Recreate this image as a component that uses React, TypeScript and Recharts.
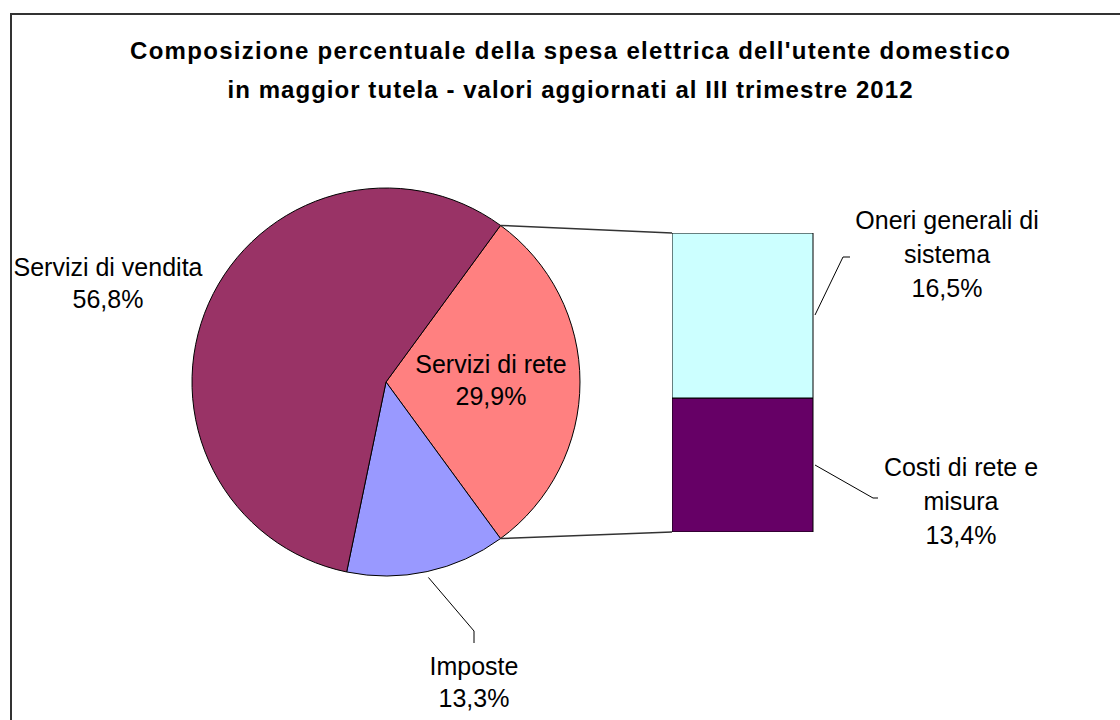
import React from 'react';
import { PieChart, Pie, Cell, BarChart, Bar, XAxis, YAxis, LabelList } from 'recharts';

const titleLines = [
  "Composizione percentuale della spesa elettrica dell'utente domestico",
  'in maggior tutela - valori aggiornati al III trimestre 2012',
];

// pie: rete is the slice that gets split into the bar
const pieNames = ['Servizi di rete', 'Imposte', 'Servizi di vendita'];
const pieValues = [29.9, 13.3, 56.8];
const pieColors = ['#FF8080', '#9999FF', '#993366'];

// bar: bottom to top
const barKeys = ['costi', 'oneri'];
const barNames = ['Costi di rete e misura', 'Oneri generali di sistema'];
const barValues = [13.4, 16.5];
const barColors = ['#660066', '#CCFFFF'];

const FONT = '"Liberation Sans", Arial, sans-serif';
const W = 1120;
const H = 720;
const PIE = { cx: 386, cy: 382, r: 194 };
const BAR = { left: 672, top: 233, width: 141, height: 299 };
const LINE_H = 32;
const FS = 25;

const pieData = pieNames.map((name, i) => ({ name, value: pieValues[i] }));
const barRow: Record<string, number | string> = { name: pieNames[0] };
barKeys.forEach((k, i) => (barRow[k] = barValues[i]));
const barData = [barRow];

const pieTotal = pieValues.reduce((a, b) => a + b, 0);
const barTotal = barValues.reduce((a, b) => a + b, 0);
const startAngle = (pieValues[0] / pieTotal) * 180;

const fmt = (v: number) => v.toFixed(1).replace('.', ',') + '%';

function wrap(text: string, max: number) {
  const out: string[] = [];
  let cur = '';
  text.split(' ').forEach((w) => {
    const next = cur ? cur + ' ' + w : w;
    if (next.length > max && cur) {
      out.push(cur);
      cur = w;
    } else cur = next;
  });
  if (cur) out.push(cur);
  return out;
}

const RAD = Math.PI / 180;
const polar = (a: number, r: number) => ({ x: PIE.cx + r * Math.cos(a * RAD), y: PIE.cy - r * Math.sin(a * RAD) });

// label placement relative to pie centre
const pieLabelPos = [
  { dx: 105, dy: -9 },
  { dx: 88, dy: 293, leader: true },
  { dx: -278, dy: -106 },
];

function renderPieLabel(props: any) {
  const { cx, cy, midAngle, outerRadius, index, value, name } = props;
  const p = pieLabelPos[index];
  const lines = [name, fmt(value)];
  const tx = cx + p.dx;
  let leader = null;
  if (p.leader) {
    const s = { x: cx + (outerRadius + 6) * Math.cos(-midAngle * RAD), y: cy + (outerRadius + 6) * Math.sin(-midAngle * RAD) };
    leader = <polyline points={`${s.x},${s.y} ${tx},${cy + 249} ${tx},${cy + 261}`} fill="none" stroke="#000" strokeWidth={1} />;
  }
  return (
    <g>
      {leader}
      {lines.map((l, i) => (
        <text key={i} x={tx} y={cy + p.dy + i * LINE_H} textAnchor="middle" fontSize={FS} fontFamily={FONT} fill="#000">
          {l}
        </text>
      ))}
    </g>
  );
}

// label placement relative to the right edge / top of each bar segment
const barLabelPos = [
  { dx: 148, dy: 78, lead: [2, 67, 60, 100, 65, 100] },
  { dx: 134, dy: -4, lead: [2, 82, 30, 24, 37, 24] },
];

const renderBarLabel = (idx: number) => (props: any) => {
  const vb = props.viewBox ?? props;
  const x = vb.x as number;
  const y = vb.y as number;
  const right = x + (vb.width as number);
  const p = barLabelPos[idx];
  const lines = [...wrap(barNames[idx], 17), fmt(barValues[idx])];
  const [a, b, c, d, e, f] = p.lead;
  return (
    <g>
      <polyline points={`${right + a},${y + b} ${right + c},${y + d} ${right + e},${y + f}`} fill="none" stroke="#000" strokeWidth={1} />
      {lines.map((l, i) => (
        <text key={i} x={right + p.dx} y={y + p.dy + i * 34} textAnchor="middle" fontSize={FS} fontFamily={FONT} fill="#000">
          {l}
        </text>
      ))}
    </g>
  );
};

export default function App() {
  const a0 = polar(startAngle, PIE.r);
  const a1 = polar(-startAngle, PIE.r);
  const bw = W - BAR.left;
  return (
    <div style={{ position: 'absolute', left: 0, top: 0, width: W, height: H, overflow: 'hidden', background: '#fff' }}>
      <div style={{ position: 'absolute', left: 10, top: 13, width: 1300, height: 900, border: '2px solid #333' }} />
      <div style={{ position: 'absolute', left: 0, top: 0 }}>
        <PieChart width={W} height={H} margin={{ top: 0, right: 0, bottom: 0, left: 0 }}>
          <Pie
            data={pieData}
            dataKey="value"
            nameKey="name"
            cx={PIE.cx}
            cy={PIE.cy}
            outerRadius={PIE.r}
            startAngle={startAngle}
            endAngle={startAngle - 360}
            stroke="#000"
            strokeWidth={1}
            label={renderPieLabel}
            labelLine={false}
            isAnimationActive={false}
          >
            {pieData.map((d, i) => (
              <Cell key={d.name} fill={pieColors[i]} />
            ))}
          </Pie>
        </PieChart>
      </div>
      <div style={{ position: 'absolute', left: BAR.left, top: 0 }}>
        <BarChart
          width={bw}
          height={H}
          data={barData}
          barCategoryGap={0}
          barGap={0}
          margin={{ top: BAR.top, left: 0, right: bw - BAR.width, bottom: H - BAR.top - BAR.height }}
        >
          <XAxis dataKey="name" hide />
          <YAxis hide domain={[0, barTotal]} allowDataOverflow />
          {barKeys.map((k, i) => (
            <Bar key={k} dataKey={k} stackId="s" fill={barColors[i]} stroke="#000" strokeWidth={1} isAnimationActive={false}>
              <LabelList dataKey={k} content={renderBarLabel(i)} />
            </Bar>
          ))}
        </BarChart>
      </div>
      <svg width={W} height={H} style={{ position: 'absolute', left: 0, top: 0, pointerEvents: 'none' }}>
        <line x1={a0.x} y1={a0.y} x2={BAR.left} y2={BAR.top} stroke="#333" strokeWidth={1.5} />
        <line x1={a1.x} y1={a1.y} x2={BAR.left} y2={BAR.top + BAR.height} stroke="#333" strokeWidth={1.5} />
        <text x={570} y={59} textAnchor="middle" fontSize={24} fontWeight="bold" fontFamily={FONT} textLength={880} lengthAdjust="spacing">
          {titleLines[0]}
        </text>
        <text x={570} y={98} textAnchor="middle" fontSize={24} fontWeight="bold" fontFamily={FONT} textLength={685} lengthAdjust="spacing">
          {titleLines[1]}
        </text>
      </svg>
    </div>
  );
}
